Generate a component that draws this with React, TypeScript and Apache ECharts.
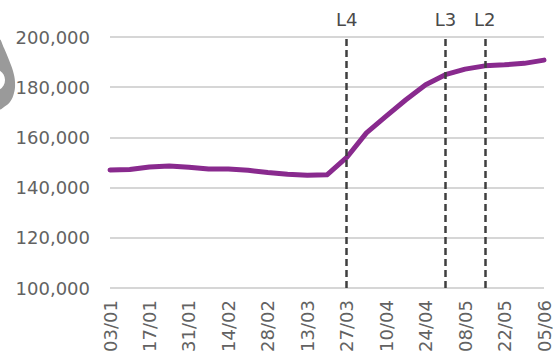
import React, { useEffect, useRef } from "react";
import * as echarts from "echarts";

// Weekly observations, 2020
const weeks = [
  "03/01", "10/01", "17/01", "24/01", "31/01", "07/02", "14/02", "21/02",
  "28/02", "06/03", "13/03", "20/03", "27/03", "03/04", "10/04", "17/04",
  "24/04", "01/05", "08/05", "15/05", "22/05", "29/05", "05/06",
];

const values = [
  147000, 147200, 148200, 148600, 148100, 147400, 147400, 146900,
  146000, 145300, 144900, 145100, 152000, 161800, 168500, 175000,
  181000, 185000, 187200, 188500, 188900, 189500, 190800,
];

// Lockdown stage markers
const markerWeeks = ["27/03", "01/05", "15/05"];
const markerLabels = ["L4", "L3", "L2"];

const yMin = 100000;
const yMax = 200000;
const yStep = 20000;

export default function App() {
  const ref = useRef<HTMLDivElement>(null);

  useEffect(() => {
    document.body.style.margin = "0";
    if (!ref.current) return;
    const chart = echarts.init(ref.current, null, { renderer: "svg" });
    const textColor = "#626262";
    const font = "DejaVu Sans";

    chart.setOption({
      animation: false,
      backgroundColor: "#ffffff",
      grid: { left: 110, right: 6, top: 37, bottom: 75, containLabel: false },
      xAxis: {
        type: "category",
        data: weeks,
        boundaryGap: false,
        axisLine: { show: false },
        axisTick: { show: false },
        axisLabel: {
          interval: 1,
          rotate: 90,
          margin: 12,
          color: textColor,
          fontFamily: font,
          fontSize: 18,
        },
        splitLine: { show: false },
      },
      yAxis: {
        type: "value",
        min: yMin,
        max: yMax,
        interval: yStep,
        axisLine: { show: false },
        axisTick: { show: false },
        axisLabel: {
          margin: 20,
          color: textColor,
          fontFamily: font,
          fontSize: 18,
          formatter: (v: number) => v.toLocaleString("en-US"),
        },
        splitLine: { lineStyle: { color: "#d6d6d6", width: 2 } },
      },
      series: [
        {
          type: "line",
          data: values,
          symbol: "none",
          smooth: false,
          lineStyle: { color: "#892a8e", width: 5, join: "round", cap: "round" },
          z: 3,
          markLine: {
            silent: true,
            symbol: "none",
            lineStyle: { color: "#3f3f3f", width: 2.5, type: [7, 4] },
            label: {
              position: "end",
              distance: 9,
              color: "#4a4a4a",
              fontFamily: font,
              fontSize: 18,
            },
            data: markerWeeks.map((w, i) => ({
              xAxis: w,
              label: { formatter: markerLabels[i] },
            })),
          },
        },
      ],
      graphic: [
        {
          type: "polygon",
          shape: {
            points: [
              [0, 40], [4, 48], [9, 60], [13, 71], [15, 82],
              [14, 93], [10, 102], [4, 107], [0, 109],
            ],
            smooth: 0.4,
          },
          style: { fill: "#9a9a9a" },
        },
        {
          type: "circle",
          shape: { cx: -6, cy: 80, r: 11 },
          style: { fill: "#ffffff" },
        },
      ],
    });

    return () => chart.dispose();
  }, []);

  return <div ref={ref} style={{ width: 553, height: 363 }} />;
}
